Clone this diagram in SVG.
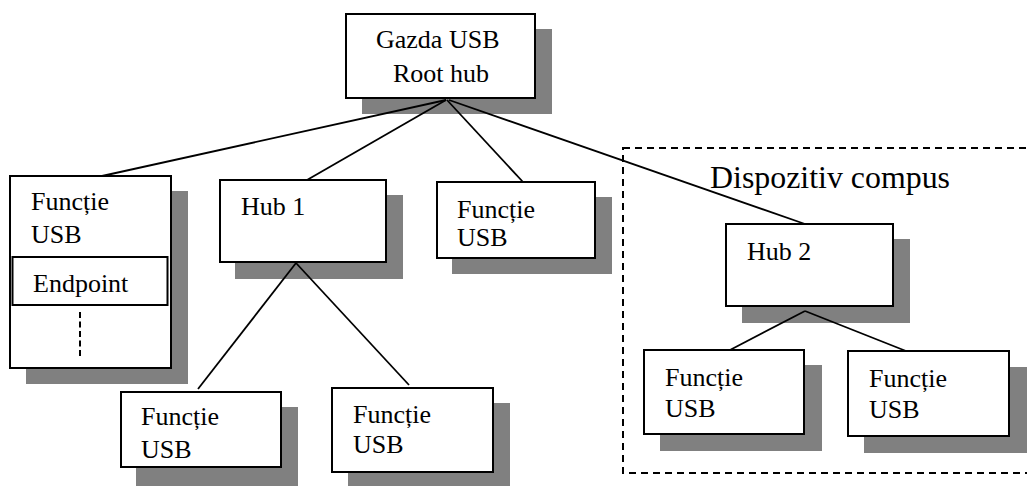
<svg xmlns="http://www.w3.org/2000/svg" width="1027" height="486" viewBox="0 0 1027 486">
  <style>
    .shadow { fill: #808080; }
    .box { fill: #ffffff; stroke: #000000; stroke-width: 2; }
    .ep { fill: #ffffff; stroke: #000000; stroke-width: 2; }
    .lbl { font-family: "Liberation Serif", "Times New Roman", serif; font-size: 26px; fill: #000000; }
    .big { font-size: 31px; }
    .wire { stroke: #000000; stroke-width: 1.8; fill: none; }
    .group-frame { fill: none; stroke: #000000; stroke-width: 2; stroke-dasharray: 7 5; }
  </style>

  <rect width="1027" height="486" fill="#ffffff"/>

  <!-- composite device frame -->
  <g id="composite-device">
    <rect class="group-frame" x="623" y="148" width="420" height="325"/>
    <text class="lbl big" x="710" y="188" textLength="240" lengthAdjust="spacingAndGlyphs">Dispozitiv compus</text>
  </g>

  <!-- host / root hub -->
  <g id="root-hub">
    <rect class="shadow" x="362" y="29" width="190" height="85"/>
    <rect class="box" x="346" y="14" width="189" height="84"/>
    <text class="lbl" x="376" y="48">Gazda USB</text>
    <text class="lbl" x="393" y="82" font-size="27">Root hub</text>
  </g>

  <!-- function with endpoint -->
  <g id="function-left">
    <rect class="shadow" x="26" y="191" width="162" height="193"/>
    <rect class="box" x="10" y="176" width="161" height="192"/>
    <text class="lbl" x="31" y="210">Funcție</text>
    <text class="lbl" x="31" y="243">USB</text>
    <rect class="ep" x="12.5" y="257" width="155" height="48"/>
    <text class="lbl" x="33" y="292">Endpoint</text>
    <line x1="80" y1="312" x2="80" y2="359" stroke="#000" stroke-width="2" stroke-dasharray="6 3.5"/>
  </g>

  <g id="hub-1">
    <rect class="shadow" x="235" y="195" width="168" height="84"/>
    <rect class="box" x="220" y="180" width="166" height="82"/>
    <text class="lbl" x="241" y="215">Hub 1</text>
  </g>

  <g id="function-mid">
    <rect class="shadow" x="452" y="197" width="160" height="77"/>
    <rect class="box" x="437" y="182" width="158" height="76"/>
    <text class="lbl" x="457" y="218">Funcție</text>
    <text class="lbl" x="457" y="246">USB</text>
  </g>

  <g id="hub-2">
    <rect class="shadow" x="742" y="239" width="168" height="84"/>
    <rect class="box" x="726" y="224" width="167" height="82"/>
    <text class="lbl" x="747" y="260">Hub 2</text>
  </g>

  <g id="function-hub1-a">
    <rect class="shadow" x="136" y="407" width="162" height="79"/>
    <rect class="box" x="121" y="392" width="160" height="75"/>
    <text class="lbl" x="141" y="425">Funcție</text>
    <text class="lbl" x="141" y="458">USB</text>
  </g>

  <g id="function-hub1-b">
    <rect class="shadow" x="348" y="403" width="162" height="85"/>
    <rect class="box" x="332" y="388" width="161" height="84"/>
    <text class="lbl" x="353" y="423">Funcție</text>
    <text class="lbl" x="353" y="453">USB</text>
  </g>

  <g id="function-hub2-a">
    <rect class="shadow" x="660" y="365" width="162" height="86"/>
    <rect class="box" x="644" y="350" width="160" height="84"/>
    <text class="lbl" x="665" y="386">Funcție</text>
    <text class="lbl" x="665" y="417">USB</text>
  </g>

  <g id="function-hub2-b">
    <rect class="shadow" x="864" y="367" width="163" height="86"/>
    <rect class="box" x="848" y="351" width="161" height="85"/>
    <text class="lbl" x="869" y="387">Funcție</text>
    <text class="lbl" x="869" y="418">USB</text>
  </g>

  <!-- connectors -->
  <g id="connectors">
    <line class="wire" x1="446" y1="100" x2="102" y2="176"/>
    <line class="wire" x1="446" y1="100" x2="307" y2="180"/>
    <line class="wire" x1="447" y1="100" x2="523" y2="182"/>
    <line class="wire" x1="449" y1="100" x2="805" y2="224"/>
    <line class="wire" x1="296" y1="263" x2="198" y2="389"/>
    <line class="wire" x1="296" y1="263" x2="409" y2="385"/>
    <line class="wire" x1="805" y1="311" x2="730" y2="350"/>
    <line class="wire" x1="805" y1="311" x2="906" y2="351"/>
  </g>
</svg>
